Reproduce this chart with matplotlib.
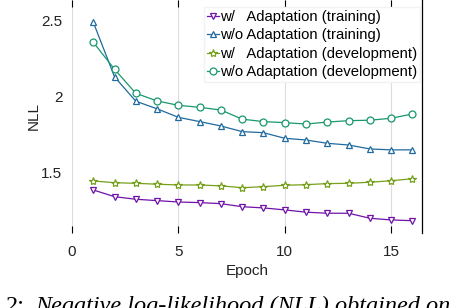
import matplotlib
matplotlib.use("Agg")
import matplotlib.pyplot as plt

epochs = list(range(1, 17))
wo_train = [2.49, 2.13, 1.97, 1.92, 1.864, 1.836, 1.807, 1.77, 1.763, 1.726, 1.715, 1.693, 1.682, 1.656, 1.65, 1.65]
wo_dev = [2.358, 2.18, 2.022, 1.972, 1.943, 1.93, 1.912, 1.852, 1.836, 1.829, 1.82, 1.833, 1.842, 1.845, 1.858, 1.886]
w_dev = [1.445, 1.434, 1.43, 1.424, 1.419, 1.419, 1.413, 1.401, 1.408, 1.417, 1.421, 1.428, 1.43, 1.437, 1.447, 1.46]
w_train = [1.386, 1.342, 1.325, 1.316, 1.307, 1.303, 1.296, 1.276, 1.268, 1.255, 1.24, 1.233, 1.233, 1.2, 1.189, 1.184]

labels = ["w/   Adaptation (training)", "w/o Adaptation (training)",
          "w/   Adaptation (development)", "w/o Adaptation (development)"]
xticks = [0, 5, 10, 15]
yticks = [1.5, 2, 2.5]
ytick_labels = ["1.5", "2", "2.5"]

plt.rcParams['font.family'] = ['Liberation Sans', 'DejaVu Sans']

fig = plt.figure(figsize=(4.54, 3.08), dpi=100)
ax = fig.add_axes([72/454, 1-233/308, 350/454, 233/308])

styles = [
    (w_train, 'v', '#6e12a8'),
    (wo_train, '^', '#1f6a9e'),
    (w_dev, '*', '#76a01a'),
    (wo_dev, 'o', '#17996a'),
]
for (vals, mk, col), lab in zip(styles, labels):
    ax.plot(epochs, vals, marker=mk, color=col, lw=0.9, ms=6 if mk == '*' else 5,
            mfc='white', mec=col, mew=0.9, label=lab)

ax.set_xlim(0, 16.45)
ax.set_ylim(1.103, 2.636)
ax.set_xticks(xticks)
ax.set_yticks(yticks)
ax.set_yticklabels(ytick_labels)
ax.grid(axis='x', color='#dcdcdc', lw=0.8)
ax.set_axisbelow(True)
for s in ['left', 'top', 'bottom']:
    ax.spines[s].set_visible(False)
ax.spines['right'].set_color('black')
ax.spines['right'].set_linewidth(0.9)
ax.tick_params(axis='x', which='both', direction='in', top=True, bottom=True,
               length=5, width=0.8, color='black', labelsize=11, colors='#222222', pad=9)
ax.tick_params(axis='y', direction='in', length=0, labelsize=11, colors='#222222', pad=7)
ax.set_xlabel('Epoch', fontsize=11, color='#222222', labelpad=3)
ax.set_ylabel('NLL', fontsize=11, color='#222222', labelpad=0)

leg = ax.legend(loc='upper right', bbox_to_anchor=(1 - 2.2/350, 1 - 7.0/233), fontsize=10.7,
                handlelength=0.8, handletextpad=0.05, borderpad=0.2, labelspacing=0.3,
                frameon=True, fancybox=False, edgecolor='#f2f2f2', framealpha=1,
                borderaxespad=0)

fig.text(25/454, -0.012, "2:", fontsize=17.5, family=['Liberation Serif'], ha='right', va='baseline')
fig.text(35/454, -0.012, "Negative log-likelihood (NLL) obtained on", fontsize=17.5,
         family=['Liberation Serif'], style='italic', ha='left', va='baseline')

fig.savefig('out.png', dpi=100)
